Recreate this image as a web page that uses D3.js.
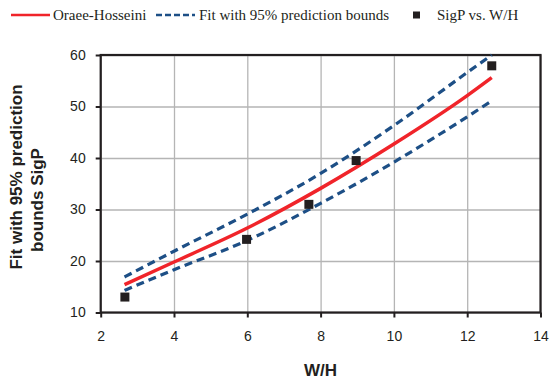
<!DOCTYPE html>
<html lang="en">
<head>
<meta charset="UTF-8">
<title>SigP vs W/H</title>
<script src="https://d3js.org/d3.v7.min.js"></script>
<style>
    body { margin: 0; background: #ffffff; }
    svg { display: block; }
    .tick text { font-family: 'Liberation Sans', Arial, sans-serif; font-size: 14px; fill: #231f20; }
    .legend text { font-family: 'Liberation Serif', 'Times New Roman', serif; font-size: 15px; fill: #231f20; }
    .title { font-family: 'Liberation Sans', Arial, sans-serif; font-weight: bold; fill: #231f20; }
</style>
</head>
<body>
<svg width="552" height="383"></svg>
<script>
// fitted curve (Oraee-Hosseini) and 95% prediction bounds
const fitX = [2.65, 4, 6, 8, 10, 12, 12.67];
const fitY = [15.4, 19.8, 26.4, 34.1, 42.7, 52.1, 55.6];
const upperY = [16.9, 21.9, 29.1, 37.0, 46.3, 56.6, 60.0];
const lowerY = [14.3, 18.3, 24.0, 31.2, 39.2, 48.0, 51.1];

// measured SigP vs. W/H
const ptX = [2.66, 5.98, 7.68, 8.97, 12.67];
const ptY = [13.0, 24.2, 31.0, 39.5, 57.9];

const xTicks = [2, 4, 6, 8, 10, 12, 14];
const yTicks = [10, 20, 30, 40, 50, 60];

const svg = d3.select("svg");
const pLeft = 100.7, pRight = 540.5, pTop = 55, pBottom = 312.5;

const x = d3.scaleLinear().domain([2, 14]).range([pLeft, pRight]);
const y = d3.scaleLinear().domain([10, 60]).range([pBottom, pTop]);

// grid
svg.append("g")
    .attr("transform", `translate(0,${pBottom})`)
    .call(d3.axisBottom(x).tickValues(xTicks).tickSize(-(pBottom - pTop)).tickFormat(""))
    .call(g => g.select(".domain").remove())
    .selectAll("line").attr("stroke", "#b5b5b5").attr("stroke-width", 1.3);
svg.append("g")
    .attr("transform", `translate(${pLeft},0)`)
    .call(d3.axisLeft(y).tickValues(yTicks).tickSize(-(pRight - pLeft)).tickFormat(""))
    .call(g => g.select(".domain").remove())
    .selectAll("line").attr("stroke", "#b5b5b5").attr("stroke-width", 1.3);

// axes
const xAxis = svg.append("g")
    .attr("transform", `translate(0,${pBottom})`)
    .call(d3.axisBottom(x).tickValues(xTicks).tickSize(5).tickPadding(14).tickSizeOuter(0));
const yAxis = svg.append("g")
    .attr("transform", `translate(${pLeft},0)`)
    .call(d3.axisLeft(y).tickValues(yTicks).tickSize(5).tickPadding(10).tickSizeOuter(0));
[xAxis, yAxis].forEach(a => {
    a.select(".domain").remove();
    a.selectAll("line").attr("stroke", "#231f20").attr("stroke-width", 2);
});

// frame
svg.append("rect")
    .attr("x", pLeft).attr("y", pTop)
    .attr("width", pRight - pLeft).attr("height", pBottom - pTop)
    .attr("fill", "none").attr("stroke", "#231f20").attr("stroke-width", 2.2);

const line = d3.line().x(d => x(d[0])).y(d => y(d[1])).curve(d3.curveMonotoneX);

svg.append("path")
    .datum(d3.zip(fitX, upperY))
    .attr("d", line)
    .attr("fill", "none").attr("stroke", "#1d4f86").attr("stroke-width", 3.2)
    .attr("stroke-dasharray", "8,5");
svg.append("path")
    .datum(d3.zip(fitX, lowerY))
    .attr("d", line)
    .attr("fill", "none").attr("stroke", "#1d4f86").attr("stroke-width", 3.2)
    .attr("stroke-dasharray", "8,5");
svg.append("path")
    .datum(d3.zip(fitX, fitY))
    .attr("d", line)
    .attr("fill", "none").attr("stroke", "#f0242a").attr("stroke-width", 3.5);

svg.append("g").selectAll("rect")
    .data(d3.zip(ptX, ptY))
    .join("rect")
    .attr("x", d => x(d[0]) - 4.5).attr("y", d => y(d[1]) - 4.5)
    .attr("width", 9).attr("height", 9)
    .attr("fill", "#231f20");

// axis titles
svg.append("text").attr("class", "title")
    .attr("x", (pLeft + pRight) / 2).attr("y", 376)
    .attr("text-anchor", "middle").attr("font-size", 17)
    .text("W/H");
svg.append("text").attr("class", "title")
    .attr("transform", "translate(22,177) rotate(-90)")
    .attr("text-anchor", "middle").attr("font-size", 17)
    .text("Fit with 95% prediction");
svg.append("text").attr("class", "title")
    .attr("transform", "translate(43,200) rotate(-90)")
    .attr("text-anchor", "middle").attr("font-size", 17)
    .text("bounds SigP");

// legend
const lg = svg.append("g").attr("class", "legend");
lg.append("line").attr("x1", 11).attr("x2", 50).attr("y1", 15).attr("y2", 15)
    .attr("stroke", "#f0242a").attr("stroke-width", 2.5);
lg.append("text").attr("x", 53).attr("y", 20).text("Oraee-Hosseini");
lg.append("line").attr("x1", 156).attr("x2", 195).attr("y1", 15).attr("y2", 15)
    .attr("stroke", "#1d4f86").attr("stroke-width", 2.5).attr("stroke-dasharray", "6,3");
lg.append("text").attr("x", 199).attr("y", 20).text("Fit with 95% prediction bounds");
lg.append("rect").attr("x", 413).attr("y", 11.5).attr("width", 7).attr("height", 7).attr("fill", "#231f20");
lg.append("text").attr("x", 437).attr("y", 20).text("SigP vs. W/H");
</script>
</body>
</html>
